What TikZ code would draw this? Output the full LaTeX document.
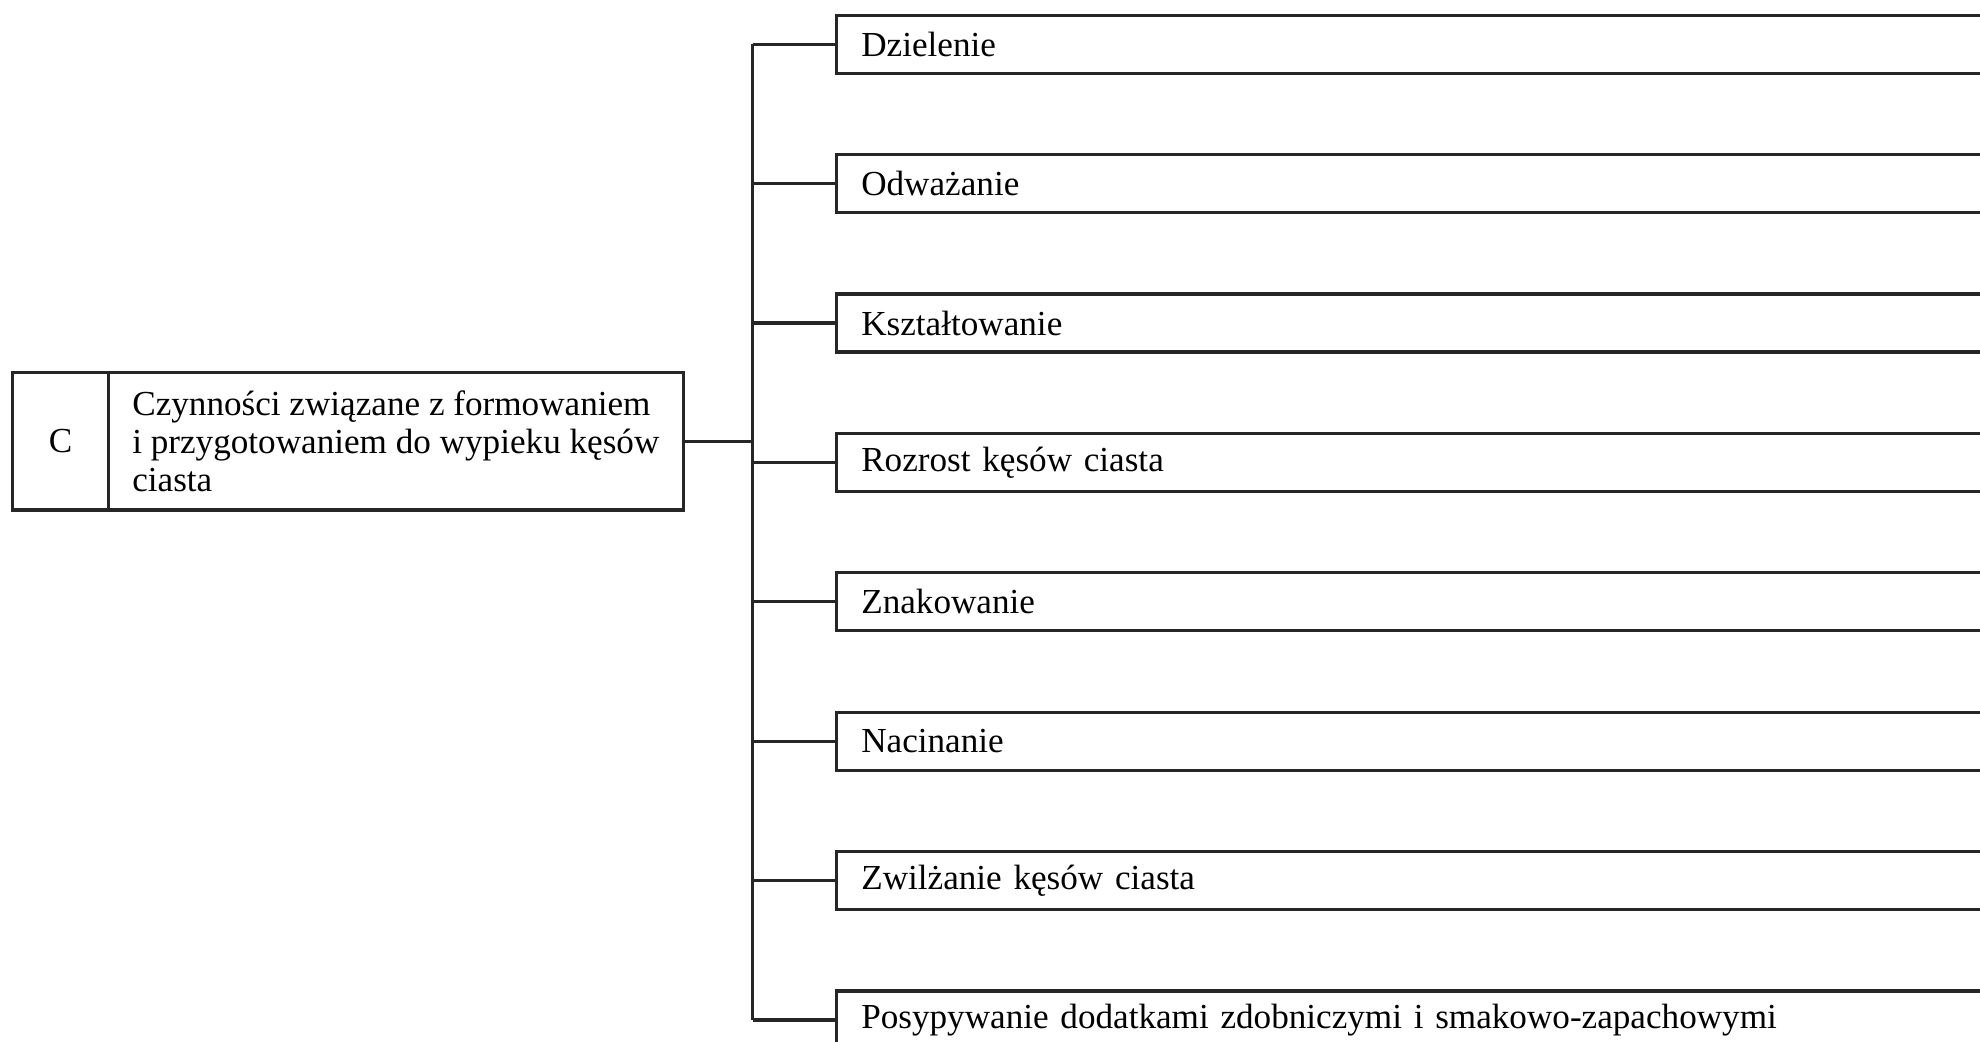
\documentclass[tikz,border=0pt]{standalone}
\usepackage{fontspec}
\setmainfont{Liberation Serif}
\usetikzlibrary{positioning,calc}

\begin{document}
\begin{tikzpicture}[line width=0.9pt, line join=miter,
                    every box/.style = {draw=black!85, fill=white, font=\fontsize{10}{10.8}\selectfont},
                    code cell/.style = {rectangle, every box, minimum width=9.6mm, minimum height=13.75mm, inner sep=0pt, outer sep=0pt},
                    group cell/.style = {rectangle, every box, minimum height=13.75mm, minimum width=5.745cm, inner xsep=2.3mm, outer sep=0pt, align=left},
                    activity/.style = {rectangle, every box, minimum height=5.8mm, text width=11.05cm, inner xsep=2.5mm, align=left},
                    link/.style = {-, draw=black!85}]

                \useasboundingbox (0,0) rectangle (19.8,-10.42);

                % group on the left
                \node [code cell, anchor=north west] (code) at (0.126,-3.725) {C};
                \node [group cell, right=0pt of code] (group) {Czynności związane z formowaniem\\ i przygotowaniem do wypieku kęsów\\ ciasta};

                % activities on the right
                \foreach \name [count=\i] in {Dzielenie, Odważanie, Kształtowanie, Rozrost kęsów ciasta,
                                              Znakowanie, Nacinanie, Zwilżanie kęsów ciasta,
                                              Posypywanie dodatkami zdobniczymi i smakowo-zapachowymi}
                    \node [activity, anchor=west] (act\i) at (8.347,{-0.442-(\i-1)*1.394}) {\name};

                % bus
                \coordinate (bus) at (7.526,0);
                \draw [link] (group.east) -- (group.east -| bus);
                \draw [link] (act1.west -| bus) -- (act8.west -| bus);
                \foreach \i in {1,...,8}
                    \draw [link] (act\i.west -| bus) -- (act\i.west);

            \end{tikzpicture}
\end{document}
